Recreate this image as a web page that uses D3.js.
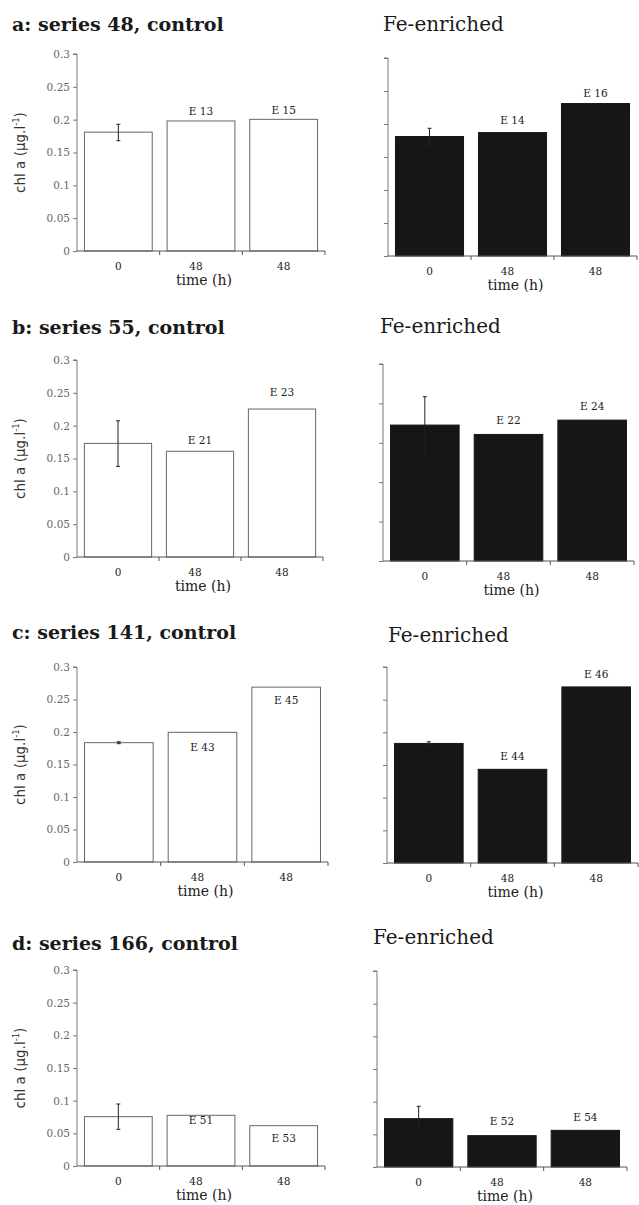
<!DOCTYPE html>
<html><head><meta charset="utf-8">
<script src="https://cdn.jsdelivr.net/npm/d3@7"></script>
<style>body{margin:0;background:#fff}</style>
</head><body>
<svg id="chart" width="639" height="1205"></svg>
<script>
// ---------- DATA ----------
const categories = ["0", "48", "48"];
const controlTitles = ["a: series 48, control", "b: series 55, control", "c: series 141, control", "d: series 166, control"];
const feTitle = "Fe-enriched";
const controlValues = [
  [0.181, 0.198, 0.2005],
  [0.173, 0.161, 0.2253],
  [0.1836, 0.1995, 0.269],
  [0.0755, 0.0776, 0.0617]
];
const controlErr = [[0.168, 0.193], [0.138, 0.2074], [0.182, 0.185], [0.0561, 0.0949]];
const feValues = [
  [0.181, 0.187, 0.231],
  [0.1725, 0.1606, 0.1788],
  [0.183, 0.1434, 0.2695],
  [0.074, 0.048, 0.0561]
];
const feErr = [[0.168, 0.1935], [0.137, 0.2085], [0.181, 0.1856], [0.055, 0.0929]];
const controlLabels = [["", "E 13", "E 15"], ["", "E 21", "E 23"], ["", "E 43", "E 45"], ["", "E 51", "E 53"]];
const feLabels = [["", "E 14", "E 16"], ["", "E 22", "E 24"], ["", "E 44", "E 46"], ["", "E 52", "E 54"]];
const yTickValues = [0, 0.05, 0.1, 0.15, 0.2, 0.25, 0.3];
const yTickLabels = ["0", "0.05", "0.1", "0.15", "0.2", "0.25", "0.3"];
const feYMax = [0.3, 0.25, 0.3, 0.3];
const xTitle = "time (h)";

// ---------- LAYOUT ----------
const layout = [
  {ctl: {x0: 77, x1: 325, yT: 54, y0: 251}, fe: {x0: 388, x1: 637, yT: 58, y0: 256},
   ctlT: [12, 31], feT: [383, 31], ctlDy: [0, -6, -5], feDy: [0, -9, -7]},
  {ctl: {x0: 77, x1: 323, yT: 360, y0: 557}, fe: {x0: 383, x1: 634, yT: 364, y0: 561},
   ctlT: [12, 334], feT: [380, 333], ctlDy: [0, -7, -13], feDy: [0, -10, -10]},
  {ctl: {x0: 77, x1: 328, yT: 667, y0: 862}, fe: {x0: 387, x1: 638, yT: 667, y0: 863},
   ctlT: [12, 639], feT: [388, 642], ctlDy: [0, 19, 17], feDy: [0, -9, -9]},
  {ctl: {x0: 77, x1: 325, yT: 970, y0: 1166}, fe: {x0: 377, x1: 627, yT: 971, y0: 1167},
   ctlT: [12, 950], feT: [373, 944], ctlDy: [0, 9, 16], feDy: [0, -11, -9]}
];

const svg = d3.select("#chart");
const SERIF = "'DejaVu Serif', serif";

function panel(box, yMax, values, err, labels, dys, isFe, showY) {
  const g = svg.append("g");
  const idx = d3.range(categories.length);
  const x = d3.scaleBand().domain(idx).range([box.x0, box.x1]).paddingInner(0.18).paddingOuter(0.09);
  const y = d3.scaleLinear().domain([0, yMax]).range([box.y0, box.yT]);

  // y axis
  const ticks = yTickValues.filter(v => v <= yMax + 1e-9);
  const yAxis = d3.axisLeft(y).tickValues(ticks).tickSize(4).tickPadding(3)
    .tickFormat(showY ? (d => yTickLabels[yTickValues.indexOf(d)]) : "");
  const ya = g.append("g").attr("transform", `translate(${box.x0},0)`).call(yAxis);
  ya.select(".domain").attr("stroke", "#777").attr("d", `M-4,${box.yT}H0V${box.y0}`);
  ya.selectAll(".tick line").attr("stroke", "#777");
  ya.selectAll(".tick text").attr("font-family", SERIF).attr("font-size", 10.5).attr("fill", "#666");

  // bars
  g.selectAll("rect.bar").data(values).join("rect").attr("class", "bar")
    .attr("x", (d, i) => x(i)).attr("width", x.bandwidth())
    .attr("y", d => y(d)).attr("height", d => box.y0 - y(d))
    .attr("fill", isFe ? "#161616" : "#ffffff")
    .attr("stroke", isFe ? "#161616" : "#666").attr("stroke-width", 1);

  // error bar for t=0
  const cx = x(0) + x.bandwidth() / 2;
  const eg = g.append("g").attr("stroke", "#222").attr("stroke-width", 1);
  eg.append("line").attr("x1", cx).attr("x2", cx).attr("y1", y(err[0])).attr("y2", y(err[1]));
  [err[0], err[1]].forEach(v => eg.append("line").attr("x1", cx - 2).attr("x2", cx + 2).attr("y1", y(v)).attr("y2", y(v)));

  // x axis
  g.append("line").attr("x1", box.x0).attr("x2", box.x1).attr("y1", box.y0).attr("y2", box.y0)
    .attr("stroke", "#555");
  idx.forEach(i => {
    const px = Math.min(box.x0 + x.step() * (i + 1), box.x1);
    g.append("line").attr("x1", px).attr("x2", px).attr("y1", box.y0).attr("y2", box.y0 + 4).attr("stroke", "#555");
  });
  g.selectAll("text.cat").data(categories).join("text").attr("class", "cat")
    .attr("x", (d, i) => x(i) + x.bandwidth() / 2 + (i === 1 ? -5 : 0))
    .attr("y", box.y0 + 19).attr("text-anchor", "middle")
    .attr("font-family", SERIF).attr("font-size", 10.5).attr("fill", "#222").text(d => d);
  g.append("text").attr("x", (box.x0 + box.x1) / 2 + 3).attr("y", box.y0 + 34)
    .attr("text-anchor", "middle").attr("font-family", SERIF).attr("font-size", 14).attr("fill", "#222")
    .text(xTitle);

  // bar labels
  g.selectAll("text.lab").data(labels).join("text").attr("class", "lab")
    .attr("x", (d, i) => x(i) + x.bandwidth() / 2)
    .attr("y", (d, i) => y(values[i]) + dys[i])
    .attr("text-anchor", "middle").attr("font-family", SERIF).attr("font-size", 10.5).attr("fill", "#222")
    .text(d => d);

  if (showY) {
    const t = g.append("text")
      .attr("transform", `translate(${box.x0 - 52},${(box.yT + box.y0) / 2}) rotate(-90)`)
      .attr("text-anchor", "middle").attr("font-family", "'DejaVu Sans', sans-serif")
      .attr("font-size", 13.5).attr("fill", "#333");
    t.append("tspan").text("chl a (µg.l");
    t.append("tspan").attr("dy", -6).attr("font-size", 8.5).text("-1");
    t.append("tspan").attr("dy", 6).text(")");
  }
}

layout.forEach((L, k) => {
  svg.append("text").attr("x", L.ctlT[0]).attr("y", L.ctlT[1])
    .attr("font-family", SERIF).attr("font-weight", "bold").attr("font-size", 19).attr("fill", "#1a1a1a")
    .text(controlTitles[k]);
  svg.append("text").attr("x", L.feT[0]).attr("y", L.feT[1])
    .attr("font-family", SERIF).attr("font-size", 20).attr("fill", "#1a1a1a")
    .text(feTitle);
  panel(L.ctl, 0.3, controlValues[k], controlErr[k], controlLabels[k], L.ctlDy, false, true);
  panel(L.fe, feYMax[k], feValues[k], feErr[k], feLabels[k], L.feDy, true, false);
});
</script>
</body></html>
